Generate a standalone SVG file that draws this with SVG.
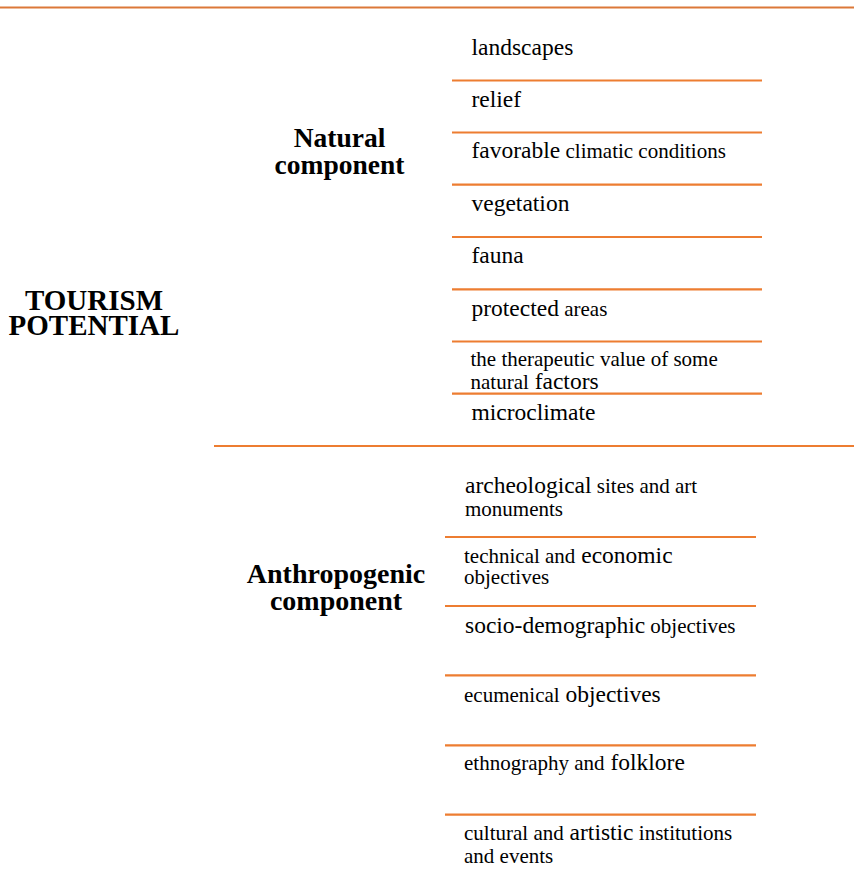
<svg xmlns="http://www.w3.org/2000/svg" width="854" height="883" viewBox="0 0 854 883">
<style>
text{font-family:"Liberation Serif","Times New Roman",serif;fill:#000}
.h{font-weight:bold;text-anchor:middle}
.b{font-size:23.5px}
.s{font-size:21px}
.ln{stroke:#ED7D31;stroke-width:2.2;fill:none}
.top{stroke:#DC7838;stroke-width:2;fill:none}
</style>
<rect width="854" height="883" fill="#fff"/>
<g id="connectors">
<line class="top" x1="0" y1="7.5" x2="854" y2="7.5"/>
<line class="ln" x1="452" y1="80.5" x2="762" y2="80.5"/>
<line class="ln" x1="452" y1="132.5" x2="762" y2="132.5"/>
<line class="ln" x1="452" y1="184.7" x2="762" y2="184.7"/>
<line class="ln" x1="452" y1="237" x2="762" y2="237"/>
<line class="ln" x1="452" y1="289.3" x2="762" y2="289.3"/>
<line class="ln" x1="452" y1="341.5" x2="762" y2="341.5"/>
<line class="ln" x1="452" y1="393.7" x2="762" y2="393.7"/>
<line class="ln" x1="214" y1="446" x2="854" y2="446"/>
<line class="ln" x1="445" y1="537" x2="756" y2="537"/>
<line class="ln" x1="445" y1="606" x2="756" y2="606"/>
<line class="ln" x1="445" y1="675.3" x2="756" y2="675.3"/>
<line class="ln" x1="445" y1="745.3" x2="756" y2="745.3"/>
<line class="ln" x1="445" y1="814.7" x2="756" y2="814.7"/>
</g>
<g id="tourism-potential">
<text class="h" x="94" y="309.5" font-size="29">TOURISM</text>
<text class="h" x="94" y="334.5" font-size="29">POTENTIAL</text>
</g>
<g id="natural-component">
<text class="h" x="339.5" y="146.5" font-size="27.5">Natural</text>
<text class="h" x="339.5" y="174" font-size="27.5">component</text>
</g>
<g id="anthropogenic-component">
<text class="h" x="336" y="583.3" font-size="28">Anthropogenic</text>
<text class="h" x="336" y="610" font-size="28">component</text>
</g>
<g id="n-landscapes"><text class="b" x="471.5" y="55">landscapes</text></g>
<g id="n-relief"><text class="b" x="471.5" y="106.7">relief</text></g>
<g id="n-climatic"><text x="471.5" y="158"><tspan class="b">favorable</tspan><tspan class="s"> climatic conditions</tspan></text></g>
<g id="n-vegetation"><text class="b" x="471.5" y="210.7">vegetation</text></g>
<g id="n-fauna"><text class="b" x="471.5" y="263.3">fauna</text></g>
<g id="n-protected"><text x="471.5" y="316"><tspan class="b">protected</tspan><tspan class="s"> areas</tspan></text></g>
<g id="n-therapeutic">
<text class="s" x="470.5" y="366">the therapeutic value of some</text>
<text x="470.5" y="388.7"><tspan class="s">natural</tspan><tspan class="b"> factors</tspan></text>
</g>
<g id="n-microclimate"><text class="b" x="471.5" y="420">microclimate</text></g>
<g id="a-archeological">
<text x="465" y="493"><tspan class="b">archeological</tspan><tspan class="s"> sites and art</tspan></text>
<text class="s" x="465" y="516">monuments</text>
</g>
<g id="a-technical">
<text x="464" y="562.7"><tspan class="s">technical and</tspan><tspan class="b"> economic</tspan></text>
<text class="s" x="464" y="584">objectives</text>
</g>
<g id="a-socio"><text x="465" y="632.7"><tspan class="b">socio-demographic</tspan><tspan class="s"> objectives</tspan></text></g>
<g id="a-ecumenical"><text x="464" y="701.7"><tspan class="s">ecumenical</tspan><tspan class="b"> objectives</tspan></text></g>
<g id="a-ethnography"><text x="464" y="770"><tspan class="s">ethnography and</tspan><tspan class="b"> folklore</tspan></text></g>
<g id="a-cultural">
<text x="464" y="840"><tspan class="s">cultural and</tspan><tspan class="b"> artistic</tspan><tspan class="s"> institutions</tspan></text>
<text class="s" x="464" y="862.7">and events</text>
</g>
</svg>
